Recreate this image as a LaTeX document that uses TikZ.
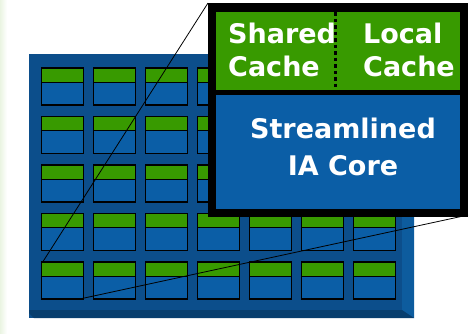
\documentclass[tikz,border=0pt]{standalone}
\usepackage{fontspec}
\setmainfont{DejaVu Sans}
\definecolor{cgreen}{HTML}{389A00}
\definecolor{cblue}{HTML}{0B5EA6}
\definecolor{boardblue}{HTML}{0C4E8B}
\definecolor{boardright}{HTML}{0D5C9E}
\definecolor{boardbottom}{HTML}{083E6E}
\definecolor{stripgreen}{HTML}{EAF4E2}
\begin{document}
\begin{tikzpicture}[x=1pt,y=-1pt,
  cell/.style={anchor=north west,draw=black,line width=1.1pt,fill=cblue,
    minimum width=42pt,minimum height=37pt,inner sep=0pt,outer sep=0pt,
    path picture={\fill[cgreen] (path picture bounding box.north west) rectangle ([yshift=-14pt]path picture bounding box.north east);
      \draw[black,line width=0.8pt] ([yshift=-14pt]path picture bounding box.north west) -- ([yshift=-14pt]path picture bounding box.north east);}},
  lbl/.style={text=white,font=\bfseries\fontsize{27}{33}\selectfont,inner sep=0pt,anchor=base west},
  zoomline/.style={black,line width=0.8pt}]
\useasboundingbox (0,0) rectangle (474,333);
\fill[white] (0,0) rectangle (474,333);
\shade[left color=stripgreen,right color=white] (0,0) rectangle (7,333);
% board
\fill[boardblue] (29,54) rectangle (414,318);
\fill[boardright] (402,54) -- (414,54) -- (414,318) -- (402,310) -- cycle;
\fill[boardbottom] (29,313) -- (29,310) -- (402,310) -- (414,318) -- (34,318) -- cycle;
% cells
\foreach \i in {1,...,7}{
  \foreach \j in {1,...,5}{
    \node[cell] (c-\i-\j) at ({41.7+51.9*(\i-1)},{68+48.5*(\j-1)}) {};
  }
}
% zoom lines
\coordinate (boxnw) at (208,3);
\coordinate (boxse) at (468,215);
\draw[zoomline] ([xshift=1pt]c-1-5.north west) -- (boxnw);
\draw[zoomline] ([xshift=-4pt]c-1-5.south east) -- (boxse);
% zoom box
\node[fill=black,anchor=north west,minimum width=260pt,minimum height=214pt,inner sep=0pt] (box) at (208,3) {};
\node[fill=cgreen,anchor=north west,minimum width=244pt,minimum height=78pt,inner sep=0pt] (cache) at (216,12) {};
\node[fill=cblue,anchor=north west,minimum width=244pt,minimum height=114pt,inner sep=0pt] (core) at (216,95) {};
\draw[black,line width=3pt,dash pattern=on 3.5pt off 3pt] (cache.north) ++(-3pt,0) coordinate (d1) -- ([xshift=-3pt]cache.south) coordinate (d2);
\node[lbl] (shared) at (228,43) {Shared};
\node[lbl] (cache1) at (228,76) {Cache};
\node[lbl] (local) at (363,43) {Local};
\node[lbl] (cache2) at (363,76) {Cache};
\node[lbl,anchor=base] (stream) at (343,138) {Streamlined};
\node[lbl,anchor=base] (iacore) at (343,175) {IA Core};
\end{tikzpicture}
\end{document}
